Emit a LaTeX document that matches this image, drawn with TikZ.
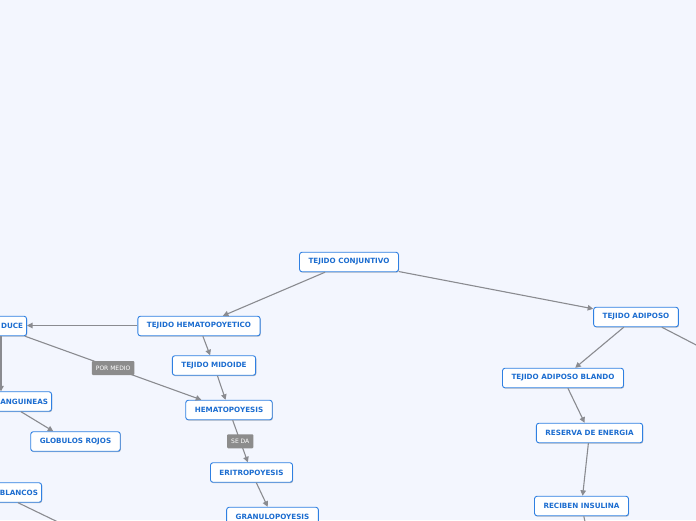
\documentclass[tikz,border=0pt]{standalone}
\usepackage{fontspec}
\setmainfont{DejaVu Sans}
\usetikzlibrary{arrows.meta,shadows}
\definecolor{bgc}{HTML}{F3F6FE}
\definecolor{bordc}{HTML}{2F80E2}
\definecolor{txtc}{HTML}{1C6DD0}
\definecolor{linec}{HTML}{8A8B90}
\definecolor{lblc}{HTML}{8C8C8C}
\tikzset{
  topic/.style={draw=bordc, line width=0.9pt, fill=white, rounded corners=2.5pt,
    minimum height=19.5pt, inner xsep=9pt, inner ysep=0pt, text=txtc,
    font=\bfseries\fontsize{7.2}{8}\selectfont,
    drop shadow={shadow xshift=0.6pt, shadow yshift=-0.9pt, opacity=0.25, fill=black}},
  cut/.style={topic, align=right, inner xsep=3.5pt},
  lbl/.style={fill=lblc, text=white, rounded corners=1pt, inner xsep=4pt, inner ysep=0pt,
    minimum height=14pt, font=\fontsize{6}{7}\selectfont},
  arr/.style={draw=linec, line width=1.1pt, -{Triangle[length=5.5pt,width=5.5pt]}},
  ln/.style={draw=linec, line width=1.1pt},
}
\begin{document}
\begin{tikzpicture}[x=1pt,y=-1pt]
\useasboundingbox (0,0) rectangle (696,520);
\fill[bgc] (0,0) rectangle (696,520);

% nodes
\node[topic] (conj) at (349,262) {TEJIDO CONJUNTIVO};
\node[topic] (hemt) at (199,326) {TEJIDO HEMATOPOYETICO};
\node[cut, text width=60pt, anchor=east] (duce) at (27,326) {DUCE};
\node[topic] (mid) at (214,365.5) {TEJIDO MIDOIDE};
\node[topic] (hemp) at (229,410) {HEMATOPOYESIS};
\node[topic] (erit) at (251.5,472.5) {ERITROPOYESIS};
\node[topic] (gran) at (272.5,517) {GRANULOPOYESIS};
\node[cut, text width=70pt, anchor=east] (sang) at (52,401.5) {ANGUINEAS};
\node[topic] (rojo) at (75.5,441.5) {GLOBULOS ROJOS};
\node[cut, text width=60pt, anchor=east] (blan) at (42,492.5) {BLANCOS};
\node[topic] (adip) at (636,317) {TEJIDO ADIPOSO};
\node[topic] (bland) at (563,378) {TEJIDO ADIPOSO BLANDO};
\node[topic] (res) at (589.5,433) {RESERVA DE ENERGIA};
\node[topic] (ins) at (581.5,506) {RECIBEN INSULINA};

% free ends
\coordinate (offa) at (60,523);
\coordinate (offb) at (702,348);
\coordinate (offc) at (586,526);

% connectors
\draw[arr] (conj) -- (hemt);
\draw[arr] (conj) -- (adip);
\draw[arr] ([yshift=0.5pt]hemt.west) -- ([yshift=0.5pt]duce.east);
\draw[arr] (hemt) -- (mid);
\draw[arr] (mid) -- (hemp);
\draw[arr] ([xshift=-2pt]duce.south east) -- node[lbl]{POR MEDIO} ([xshift=16pt]hemp.north west);
\draw[arr] ([xshift=-26pt]duce.south east) -- ([xshift=-51pt]sang.north east);
\draw[arr] ([xshift=-31pt]sang.south east) -- ([xshift=23pt]rojo.north west);
\draw[ln] ([xshift=-24pt]blan.south east) -- (offa);
\draw[arr] (hemp) -- node[lbl]{SE DA} (erit);
\draw[arr] (erit) -- (gran);
\draw[arr] (adip) -- (bland);
\draw[ln] ([xshift=-17pt]adip.south east) -- (offb);
\draw[arr] (bland) -- (res);
\draw[arr] (res) -- (ins);
\draw[ln] (ins) -- (offc);
\end{tikzpicture}
\end{document}
